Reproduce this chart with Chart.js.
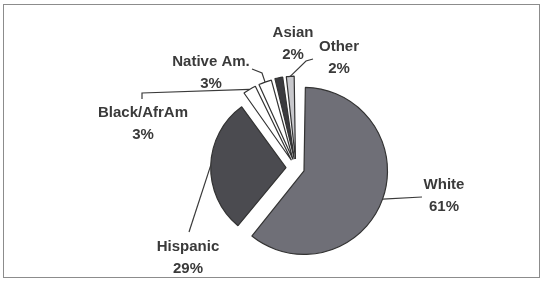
<!DOCTYPE html>
<html>
<head>
<meta charset="utf-8">
<script src="https://cdn.jsdelivr.net/npm/chart.js@4"></script>
<style>
  body { margin: 0; background: #fff; }
  #wrap { position: relative; width: 543px; height: 281px; }
  #frame { position: absolute; left: 3px; top: 4px; width: 537px; height: 274px; border: 1px solid #8c8c8c; box-sizing: border-box; }
  canvas { position: absolute; left: 0; top: 0; }
</style>
</head>
<body>
<div id="wrap">
  <div id="frame"></div>
  <canvas id="myChart" width="543" height="281"></canvas>
</div>
<script>
// data
const groups = ["White", "Hispanic", "Black/AfrAm", "Native Am.", "Asian", "Other"];
const shares = [61, 29, 3, 3, 2, 2];
const pctLabels = ["61%", "29%", "3%", "3%", "2%", "2%"];

// slice looks
const fills = ["#6f6f77", "#4b4b50", "#ffffff", "#ffffff", "#3a3a3e", "#c8c8cc"];
const explode = [34, 40, 36, 36, 36, 36];

// label spots + bend points of each leader line (layout only)
const labelSpots = [
  { x: 444, y: 185, bends: [[422, 197]] },
  { x: 188, y: 247, bends: [[189, 232]] },
  { x: 143, y: 113, bends: [[142, 93], [142, 99]] },
  { x: 211, y: 62, bends: [[262, 73], [252, 69]] },
  { x: 293, y: 33, bends: null },
  { x: 339, y: 47, bends: [[306, 61], [313, 59]] },
];

// draws the callout labels with leader lines from each slice edge
const leaderLabels = {
  id: "leaderLabels",
  afterDatasetsDraw(chart) {
    const ctx = chart.ctx;
    const arcs = chart.getDatasetMeta(0).data;
    ctx.save();
    ctx.strokeStyle = "#3a3a3a";
    ctx.lineWidth = 1.2;
    arcs.forEach((arc, i) => {
      const spot = labelSpots[i];
      const off = (arc.options.offset || 0) / 4;
      const fix = 1 - Math.sin(Math.min(Math.PI, arc.circumference));
      const half = (arc.startAngle + arc.endAngle) / 2;
      const r = arc.outerRadius + off * fix;
      const sx = arc.x + Math.cos(half) * (off + r);
      const sy = arc.y + Math.sin(half) * (off + r);
      if (spot.bends) {
        ctx.beginPath();
        ctx.moveTo(sx, sy);
        spot.bends.forEach((p) => ctx.lineTo(p[0], p[1]));
        ctx.stroke();
      }
      ctx.fillStyle = "#3a3a3a";
      ctx.font = "bold 15px 'Liberation Sans', Arial, sans-serif";
      ctx.textAlign = "center";
      ctx.textBaseline = "middle";
      ctx.fillText(groups[i], spot.x, spot.y);
      ctx.fillText(pctLabels[i], spot.x, spot.y + 22);
    });
    ctx.restore();
  },
};

new Chart(document.getElementById("myChart"), {
  type: "pie",
  data: {
    labels: groups,
    datasets: [
      {
        data: shares,
        backgroundColor: fills,
        borderColor: "#333333",
        borderWidth: 1.2,
        offset: explode,
        hoverOffset: 0,
        radius: 75,
        rotation: 0,
      },
    ],
  },
  options: {
    responsive: false,
    animation: false,
    layout: { padding: { left: 49, top: 55, right: 0, bottom: 0 } },
    plugins: {
      legend: { display: false },
      tooltip: { enabled: false },
    },
  },
  plugins: [leaderLabels],
});
</script>
</body>
</html>
